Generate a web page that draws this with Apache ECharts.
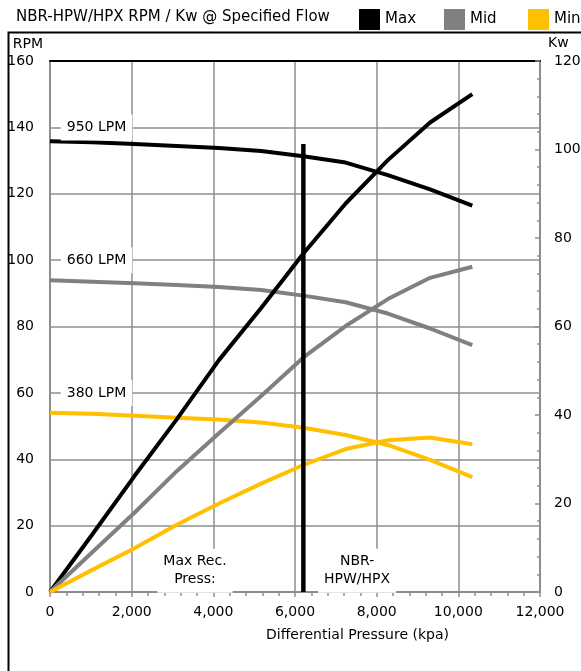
<!DOCTYPE html>
<html>
<head>
<meta charset="utf-8">
<script src="https://cdn.jsdelivr.net/npm/echarts@6/dist/echarts.min.js"></script>
<style>
html,body{margin:0;padding:0;background:#fff;}
#chart{width:581px;height:671px;}
</style>
</head>
<body>
<div id="chart"></div>
<script>
// ---- data ----
const pressure = [0, 1034, 2068, 3103, 4137, 5171, 6205, 7240, 8274, 9308, 10342];
const maxRpm = [135.8, 135.5, 135.0, 134.4, 133.8, 132.9, 131.3, 129.4, 125.6, 121.3, 116.4];
const maxKw  = [0, 13.0, 26.2, 39.0, 52.4, 64.2, 76.5, 87.8, 97.6, 106.1, 112.5];
const midRpm = [93.9, 93.5, 93.0, 92.5, 91.9, 91.0, 89.3, 87.3, 83.9, 79.4, 74.4];
const midKw  = [0, 9.0, 17.9, 27.3, 35.9, 44.3, 53.0, 60.1, 66.2, 71.0, 73.5];
const minRpm = [54.0, 53.7, 53.1, 52.5, 52.0, 51.1, 49.5, 47.3, 44.3, 39.8, 34.6];
const minKw  = [0, 5.0, 9.9, 15.2, 20.0, 24.5, 28.7, 32.3, 34.3, 34.9, 33.4];
const limitPressure = 6205;
const limitTop = 135;
const noteText = ['950 LPM', '660 LPM', '380 LPM', 'Max Rec.\nPress:', 'NBR-\nHPW/HPX'];
const noteX = [1140, 1140, 1140, 3550, 7520];
const noteY = [140, 100, 60, 6.4, 6.4];
const seriesNames = ['Max', 'Mid', 'Min'];
const xTicks = {min: 0, max: 12000, interval: 2000};
const rpmTicks = {min: 0, max: 160, interval: 20};
const kwTicks = {min: 0, max: 120, interval: 20};

const FONT = 'DejaVu Sans';
const GRID = '#8e8e8e';
const colors = ['#000000', '#808080', '#FFC000'];

const zip = (xs, ys) => xs.map((x, i) => [x, ys[i]]);
const lineSeries = (name, data, color, axis) => ({
  name, type: 'line', data, yAxisIndex: axis, symbol: 'none',
  lineStyle: {color, width: 4}, itemStyle: {color}, silent: true, animation: false
});
const txt = (size) => ({fontFamily: FONT, fontSize: size, fontWeight: 'normal', color: '#000'});

const chart = echarts.init(document.getElementById('chart'));
chart.setOption({
  animation: false,
  textStyle: {fontFamily: FONT},
  graphic: [{
    type: 'rect', left: 6, top: 30, z: -1,
    shape: {width: 620, height: 700},
    style: {fill: 'none', stroke: '#000', lineWidth: 2}
  }],
  title: [{
    text: 'NBR-HPW/HPX RPM / Kw @ Specified Flow',
    left: 16, top: 10, padding: 0, textStyle: txt(15)
  }, {
    text: 'Kw', left: 548, top: 36, padding: 0, textStyle: txt(14)
  }],
  legend: seriesNames.map((n, i) => ({
    data: [n], left: [359, 444, 528][i], top: 9, padding: 0,
    icon: 'rect', itemWidth: 21, itemHeight: 21, itemGap: 5,
    textStyle: txt(15),
    selectedMode: false
  })),
  grid: {left: 50, right: 41, top: 61, bottom: 79, containLabel: false, outerBoundsMode: 'none'},
  xAxis: [{
    type: 'value', min: xTicks.min, max: xTicks.max, interval: xTicks.interval,
    name: 'Differential Pressure (kpa)', nameLocation: 'middle', nameGap: 36,
    nameTextStyle: Object.assign(txt(14), {padding: [0, 0, 0, 125]}),
    axisLine: {show: true, onZero: false, lineStyle: {color: GRID, width: 2}},
    axisTick: {show: true, length: 5, lineStyle: {color: GRID, width: 1.5}},
    minorTick: {show: true, splitNumber: 5, length: 4, lineStyle: {color: GRID, width: 1.5}},
    axisLabel: Object.assign(txt(14), {margin: 13, formatter: v => v.toLocaleString('en-US')}),
    splitLine: {show: true, lineStyle: {color: GRID, width: 1.5}},
    minorSplitLine: {show: false}
  }, {
    type: 'value', position: 'top', min: xTicks.min, max: xTicks.max,
    axisLine: {show: true, onZero: false, lineStyle: {color: '#000', width: 2}},
    axisTick: {show: false}, minorTick: {show: false}, axisLabel: {show: false}, splitLine: {show: false}
  }],
  yAxis: [{
    type: 'value', position: 'left', min: rpmTicks.min, max: rpmTicks.max, interval: rpmTicks.interval,
    name: 'RPM', nameLocation: 'end', nameGap: 10,
    nameTextStyle: Object.assign(txt(14), {align: 'right', padding: [0, 7, 0, 0]}),
    axisLine: {show: true, onZero: false, lineStyle: {color: GRID, width: 2}},
    axisTick: {show: false}, minorTick: {show: false},
    axisLabel: Object.assign(txt(14), {margin: 16}),
    splitLine: {show: true, lineStyle: {color: GRID, width: 1.5}},
    minorSplitLine: {show: false}
  }, {
    type: 'value', position: 'right', min: kwTicks.min, max: kwTicks.max, interval: kwTicks.interval,
    axisLine: {show: true, onZero: false, lineStyle: {color: GRID, width: 2}},
    axisTick: {show: true, inside: true, length: 5, lineStyle: {color: GRID, width: 1.5}},
    minorTick: {show: true, splitNumber: 5, length: 3, lineStyle: {color: GRID, width: 1.5}},
    axisLabel: Object.assign(txt(14), {margin: 14}),
    splitLine: {show: false}, minorSplitLine: {show: false}
  }],
  series: [
    lineSeries('Max', zip(pressure, maxRpm), colors[0], 0),
    lineSeries('Mid', zip(pressure, midRpm), colors[1], 0),
    lineSeries('Min', zip(pressure, minRpm), colors[2], 0),
    lineSeries('Max', zip(pressure, maxKw), colors[0], 1),
    lineSeries('Mid', zip(pressure, midKw), colors[1], 1),
    lineSeries('Min', zip(pressure, minKw), colors[2], 1),
    {
      name: 'limit', type: 'line', yAxisIndex: 0, symbol: 'none', silent: true,
      data: [[limitPressure, 0], [limitPressure, limitTop]],
      lineStyle: {color: '#000', width: 4.5}, z: 3
    },
    {
      name: 'notes', type: 'scatter', yAxisIndex: 0, silent: true,
      symbolSize: 0, itemStyle: {color: '#fff', opacity: 1},
      data: noteText.map((t, i) => ({value: [noteX[i], noteY[i]], name: t})),
      label: {
        show: true, position: 'inside', formatter: p => p.name,
        fontFamily: FONT, fontSize: 14, color: '#000', lineHeight: 18,
        textBorderWidth: 0, opacity: 1,
        backgroundColor: '#ffffff', padding: [4, 6], align: 'center'
      },
      z: 4
    }
  ]
});
</script>
</body>
</html>
